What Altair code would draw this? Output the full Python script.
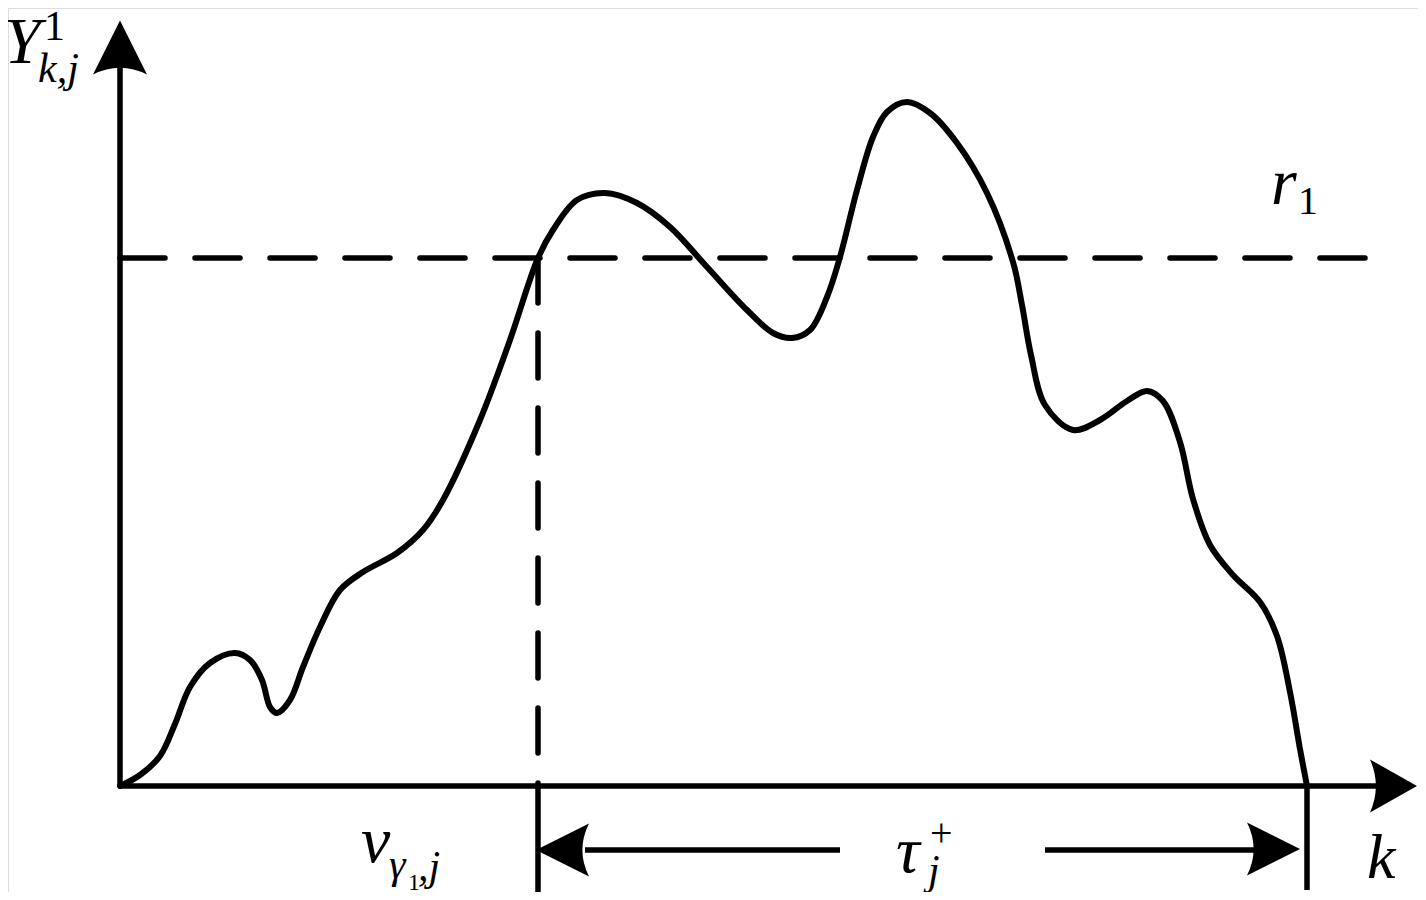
import altair as alt
import pandas as pd

# ---- curve Y^1_{k,j} (k measured from the origin, Y upward) ----
curve_k = [0, 20, 40, 55, 70, 90, 115, 130, 142, 150, 157, 170, 183, 200, 220, 243, 277, 303, 323,
           360, 390, 418, 433, 457, 485, 517, 550, 587, 627, 653, 672, 690, 707, 720, 737, 753, 767,
           787, 810, 837, 867, 893, 902, 911, 925, 953, 980, 1007, 1027, 1043, 1060, 1073, 1090,
           1113, 1140, 1157, 1170, 1180, 1187]
curve_y = [0, 11, 30, 62, 99, 123, 133, 126, 106, 79, 73, 86, 119, 159, 196, 214, 233, 256, 286,
           366, 446, 528, 556, 586, 593, 583, 559, 519, 476, 453, 448, 456, 489, 529, 596, 649, 674,
           684, 673, 643, 593, 524, 481, 431, 381, 356, 366, 385, 395, 385, 344, 287, 241,
           211, 184, 150, 94, 37, 0]

r1 = 528          # threshold level r_1
v_k = 418         # first crossing v_{gamma_1, j}
end_k = 1187      # end of the curve
x_axis_end = 1256
y_axis_end = 722
arrow_level = -64  # level of the tau_j^+ double arrow

# domain (chart units) of the whole drawing
X_DOM = [-112, 1298]
Y_DOM = [-106, 778]
W, H = 1410, 884

xs = alt.Scale(domain=X_DOM, nice=False, zero=False)
ys = alt.Scale(domain=Y_DOM, nice=False, zero=False)

curve_df = pd.DataFrame({"k": curve_k, "Y": curve_y, "i": list(range(len(curve_k)))})

solid_df = pd.DataFrame({
    "x": [0, 0, v_k, end_k, 465, 925],
    "y": [0, 0, 0, 0, arrow_level, arrow_level],
    "x2": [0, x_axis_end, v_k, end_k, 720, 1135],
    "y2": [y_axis_end, 0, -111, -104, arrow_level, arrow_level],
})
dash_df = pd.DataFrame({
    "x": [0, v_k],
    "y": [r1, r1],
    "x2": [1248, v_k],
    "y2": [r1, 0],
})

up_df = pd.DataFrame({"x": [0], "y": [738.5]})
axis_arrow_df = pd.DataFrame({"x": [1273.5], "y": [0]})
right_df = pd.DataFrame({"x": [1153.5], "y": [arrow_level + 1]})
left_df = pd.DataFrame({"x": [442.5], "y": [arrow_level]})

italic_df = pd.DataFrame({
    "t": ["Y", "k,j", "r", "v", "γ", ",j", "τ", "j", "k"],
    "x": [-116, -82, 1151, 241, 269, 298, 776, 808, 1247],
    "y": [723, 704, 582, -76, -92, -94, -86, -98, -92],
    "s": [66, 42, 66, 66, 42, 42, 66, 42, 64],
})
roman_df = pd.DataFrame({
    "t": ["1", "1", "1", "+"],
    "x": [-76, 1178, 288, 810],
    "y": [746, 572, -104, -60],
    "s": [42, 40, 24, 40],
})

FONT = "Liberation Serif"

curve = alt.Chart(curve_df).mark_line(
    color="black", strokeWidth=6, interpolate="catmull-rom", strokeCap="round", strokeJoin="round"
).encode(
    x=alt.X("k:Q", scale=xs, axis=None),
    y=alt.Y("Y:Q", scale=ys, axis=None),
    order="i:Q",
)

solid = alt.Chart(solid_df).mark_rule(color="black", strokeWidth=5.5).encode(
    x=alt.X("x:Q", scale=xs, axis=None), y=alt.Y("y:Q", scale=ys, axis=None),
    x2="x2:Q", y2="y2:Q",
)
dashed = alt.Chart(dash_df).mark_rule(
    color="black", strokeWidth=5.5, strokeDash=[45, 30], strokeCap="round"
).encode(
    x=alt.X("x:Q", scale=xs, axis=None), y=alt.Y("y:Q", scale=ys, axis=None),
    x2="x2:Q", y2="y2:Q",
)

UP = "M0,-1 L1,1 Q0,0.5 -1,1 Z"
RIGHT = "M1,0 L-1,-1 Q-0.5,0 -1,1 Z"
RIGHT_AXIS = "M1,0 L-1,-1.13 Q-0.5,0 -1,1.13 Z"
LEFT = "M-1,0 L1,-1 Q0.5,0 1,1 Z"

up_arrow = alt.Chart(up_df).mark_point(
    shape=UP, filled=True, color="black", size=2916, opacity=1, strokeWidth=0
).encode(x=alt.X("x:Q", scale=xs, axis=None), y=alt.Y("y:Q", scale=ys, axis=None))
axis_arrow = alt.Chart(axis_arrow_df).mark_point(
    shape=RIGHT_AXIS, filled=True, color="black", size=2209, opacity=1, strokeWidth=0
).encode(x=alt.X("x:Q", scale=xs, axis=None), y=alt.Y("y:Q", scale=ys, axis=None))
right_arrow = alt.Chart(right_df).mark_point(
    shape=RIGHT, filled=True, color="black", size=2809, opacity=1, strokeWidth=0
).encode(x=alt.X("x:Q", scale=xs, axis=None), y=alt.Y("y:Q", scale=ys, axis=None))
left_arrow = alt.Chart(left_df).mark_point(
    shape=LEFT, filled=True, color="black", size=2809, opacity=1, strokeWidth=0
).encode(x=alt.X("x:Q", scale=xs, axis=None), y=alt.Y("y:Q", scale=ys, axis=None))

italic = alt.Chart(italic_df).mark_text(
    font=FONT, fontStyle="italic", align="left", baseline="alphabetic", color="black"
).encode(
    x=alt.X("x:Q", scale=xs, axis=None), y=alt.Y("y:Q", scale=ys, axis=None),
    text="t:N", size=alt.Size("s:Q", scale=None, legend=None),
)
roman = alt.Chart(roman_df).mark_text(
    font=FONT, align="left", baseline="alphabetic", color="black"
).encode(
    x=alt.X("x:Q", scale=xs, axis=None), y=alt.Y("y:Q", scale=ys, axis=None),
    text="t:N", size=alt.Size("s:Q", scale=None, legend=None),
)

chart = alt.layer(
    dashed, solid, curve, up_arrow, axis_arrow, right_arrow, left_arrow, italic, roman
).properties(
    width=W, height=H
).configure_view(
    stroke="transparent", strokeWidth=0
).configure(
    padding=0, autosize=alt.AutoSizeParams(type="none"), background="transparent"
)

chart.save("out.html", embed_options={"renderer": "svg", "actions": False})
